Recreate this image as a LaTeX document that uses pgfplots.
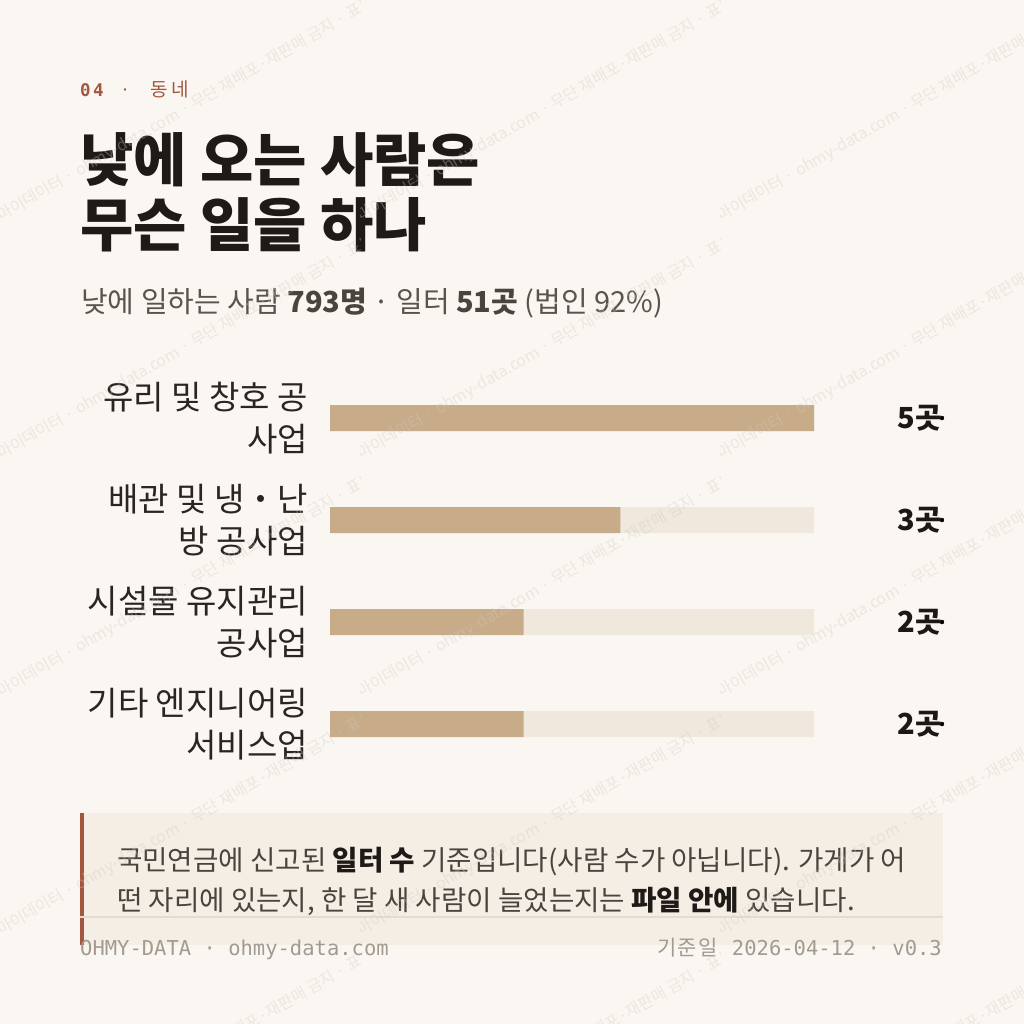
\documentclass[border=0pt]{standalone}
\usepackage{pgfplots}
\pgfplotsset{compat=1.18}
\usepackage{fontspec}
\setmainfont{Noto Sans CJK KR}
\newfontfamily\cjk{Noto Sans CJK KR}
\setmonofont{DejaVu Sans Mono}
\definecolor{bg}{HTML}{FAF7F2}
\definecolor{rust}{HTML}{A4563F}
\definecolor{titlec}{HTML}{1E1A17}
\definecolor{subc}{HTML}{5A544E}
\definecolor{subb}{HTML}{4A443E}
\definecolor{labelc}{HTML}{2A2522}
\definecolor{valc}{HTML}{1C1815}
\definecolor{barc}{HTML}{C8AC8A}
\definecolor{track}{HTML}{F0E8DC}
\definecolor{notebg}{HTML}{F5EEE5}
\definecolor{notetext}{HTML}{4A443E}
\definecolor{rule}{HTML}{E6DCCD}
\definecolor{footc}{HTML}{A39A90}
\definecolor{wm}{HTML}{CFC9C1}
\begin{document}
\begin{tikzpicture}
\useasboundingbox (0,0) rectangle (1024pt,-1024pt);
\fill[bg] (0,0) rectangle (1024pt,-1024pt);
% header
\node[anchor=base west, inner sep=0pt, text=rust] at (80pt,-97pt) {\fontsize{17.5}{17.5}\selectfont\ttfamily\bfseries 0\kern2.5pt4};
\node[anchor=base, inner sep=0pt, text=rust] at (126pt,-97pt) {\fontsize{18}{18}\selectfont ·};
\node[anchor=base west, inner sep=0pt, text=rust] at (150pt,-97pt) {\fontsize{19}{19}\selectfont 동\kern4pt 네};
% title
\node[anchor=base west, inner sep=0pt, text=titlec] at (80pt,-182pt) {\fontsize{58}{58}\selectfont\bfseries 낮에 오는 사람은};
\node[anchor=base west, inner sep=0pt, text=titlec] at (80pt,-247pt) {\fontsize{58}{58}\selectfont\bfseries 무슨 일을 하나};
% subtitle
\node[anchor=base west, inner sep=0pt, text=subc] at (81pt,-312pt) {\fontsize{29}{29}\selectfont 낮에 일하는 사람 {\bfseries\color{subb}793명} · 일터 {\bfseries\color{subb}51곳} (법인 92\%)};
% chart
\begin{axis}[
  at={(330pt,-775pt)}, anchor=south west,
  scale only axis, width=484pt, height=408pt,
  xmin=0, xmax=5, ymin=-0.5, ymax=3.5,
  axis line style={draw=none}, major tick length=0pt,
  xtick=\empty, ytick={0,1,2,3},
  yticklabels={{기타 엔지니어링\\서비스업},{시설물 유지관리\\공사업},{배관 및 냉・난\\방 공사업},{유리 및 창호 공\\사업}},
  yticklabel style={align=right, font=\fontsize{33}{42}\selectfont, text=labelc, inner sep=0pt, xshift=-22pt},
  clip=false,
]
\addplot[xbar, bar width=26pt, bar shift=0pt, fill=track, draw=none] coordinates {(5,3) (5,2) (5,1) (5,0)};
\addplot[xbar, bar width=26pt, bar shift=0pt, fill=barc, draw=none] coordinates {(5,3) (3,2) (2,1) (2,0)};
\addplot[only marks, mark=*, mark options={draw=none, fill=none},
  point meta=explicit symbolic,
  nodes near coords={\pgfplotspointmeta{}곳},
  nodes near coords style={anchor=east, inner sep=0pt, font=\fontsize{29}{29}\selectfont\bfseries, text=valc}]
  coordinates {(6.322,3) [5] (6.322,2) [3] (6.322,1) [2] (6.322,0) [2]};
\end{axis}
% note box
\fill[notebg] (80pt,-813pt) rectangle (943pt,-945pt);
\fill[rust] (80pt,-813pt) rectangle (84pt,-945pt);
\node[anchor=base west, inner sep=0pt, text=notetext] at (117pt,-870pt) {\fontsize{27.6}{27.6}\selectfont 국민연금에 신고된 {\bfseries\color{titlec}일터 수} 기준입니다(사람 수가 아닙니다). 가게가 어};
\node[anchor=base west, inner sep=0pt, text=notetext] at (117pt,-910pt) {\fontsize{27.6}{27.6}\selectfont 떤 자리에 있는지, 한 달 새 사람이 늘었는지는 {\bfseries\color{titlec}파일 안에} 있습니다.};
\draw[rule, line width=1.5pt] (80pt,-917pt) -- (943pt,-917pt);
% footer
\node[anchor=base west, inner sep=0pt, text=footc] at (80pt,-955pt) {\fontsize{20.5}{20.5}\selectfont\ttfamily OHMY-DATA · ohmy-data.com};
\node[anchor=base east, inner sep=0pt, text=footc] at (942pt,-955pt) {\fontsize{20.5}{20.5}\selectfont{\cjk\fontsize{21}{21}\selectfont 기\kern1.5pt 준\kern1.5pt 일}\hspace{14pt}\ttfamily 2026-04-12 · v0.3};
% watermark
\foreach \i in {0,1,2}{\foreach \j in {0,1,2,3,4}{
  \begin{scope}
  \clip ({\i*360pt},{-\j*238pt}) rectangle ({\i*360pt+360pt},{-\j*238pt-238pt});
  \node[rotate=30, anchor=west, inner sep=0pt, text=wm, opacity=0.35, font=\fontsize{16}{16}\selectfont] at ({\i*360pt-14pt},{-\j*238pt-225pt}) {오마이데이터 · ohmy-data.com · 무단 재배포·재판매 금지 · 표본};
  \end{scope}
}}
\end{tikzpicture}
\end{document}
